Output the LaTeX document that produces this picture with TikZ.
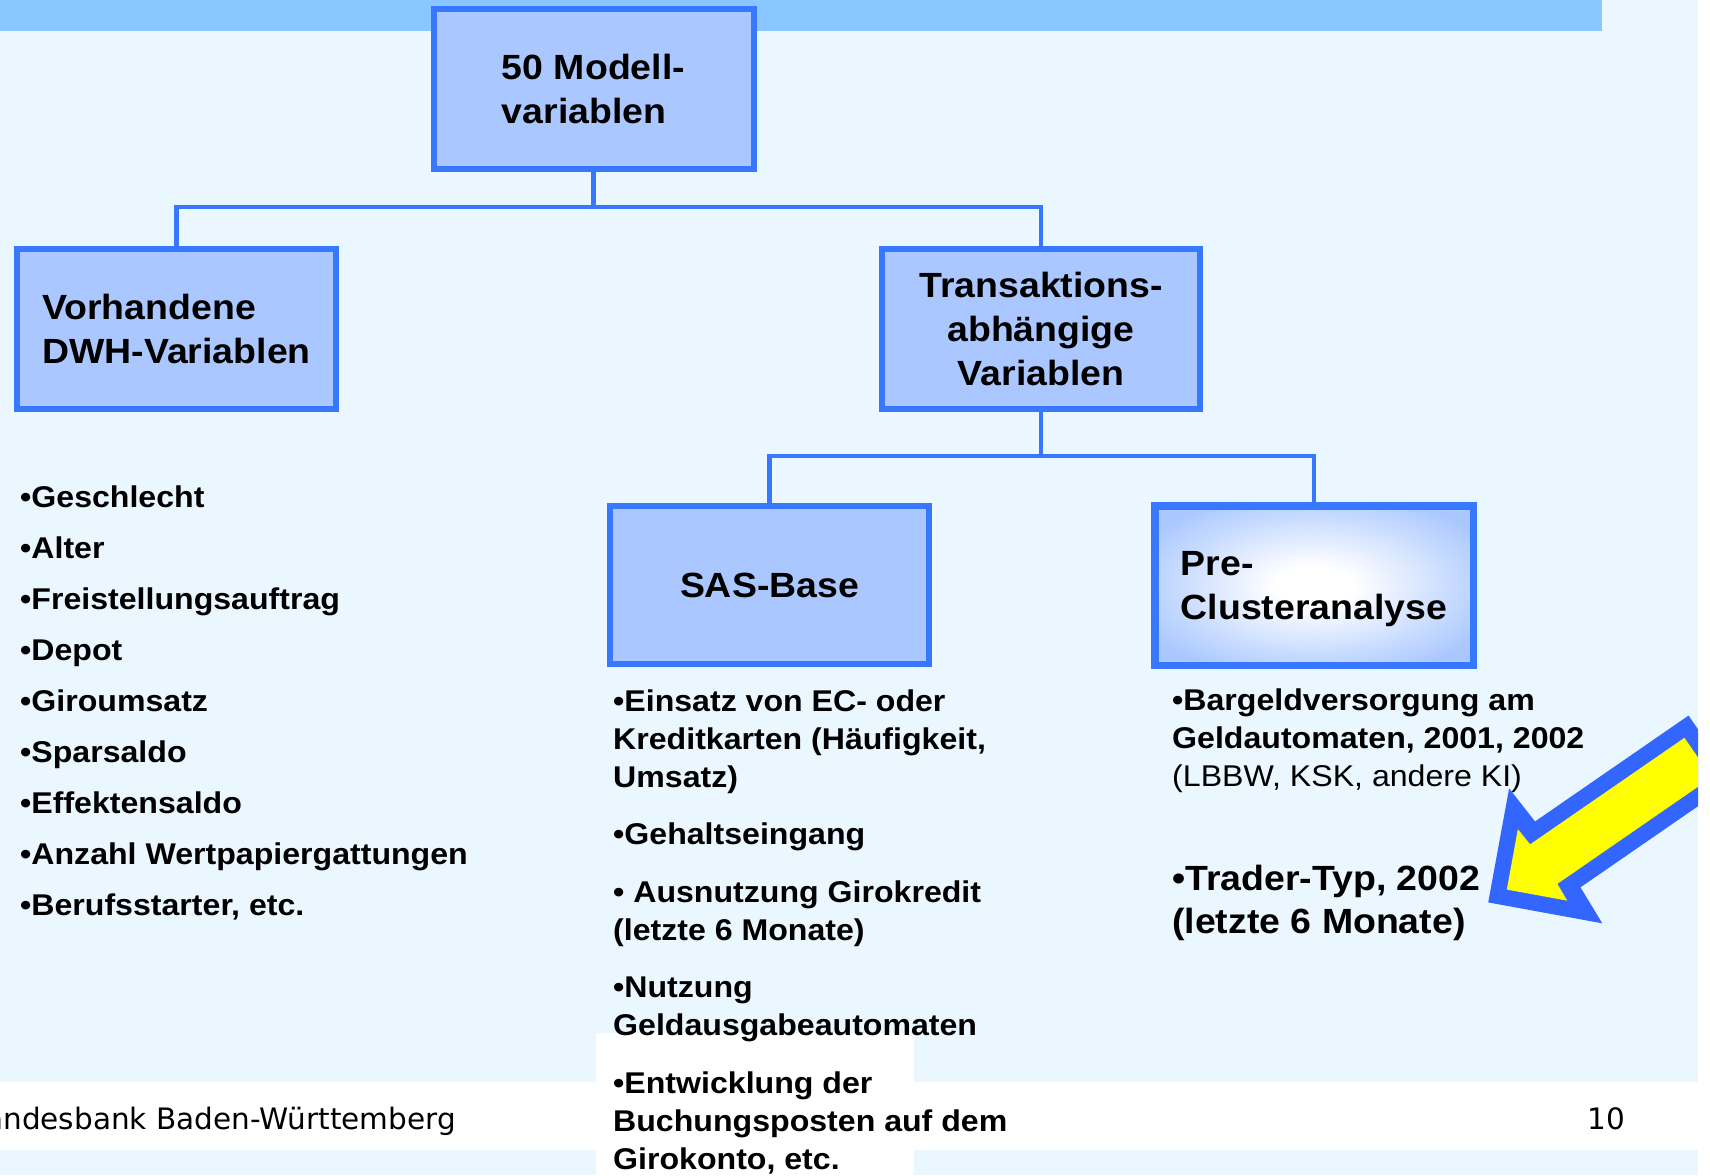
\documentclass[tikz,border=0pt]{standalone}
\usepackage{fontspec}
\setmainfont{Liberation Sans}[FakeStretch=1.07]
\newfontfamily\footfont{DejaVu Sans}
\definecolor{bgblue}{HTML}{EBF7FF}
\definecolor{bandblue}{HTML}{8AC6FF}
\definecolor{boxfill}{HTML}{AAC8FF}
\definecolor{boxline}{HTML}{3878FF}
\definecolor{arrowblue}{HTML}{3366FF}
\definecolor{arrowyellow}{HTML}{FFFF00}
\pgfdeclareradialshading{glow}{\pgfpoint{0bp}{0bp}}{color(0bp)=(white); color(6bp)=(white); color(30bp)=(boxfill); color(50bp)=(boxfill)}
\begin{document}
\begin{tikzpicture}[x=1pt,y=-1pt,
  box/.style={draw=boxline, line width=6pt, fill=boxfill, inner sep=0pt,
    font=\fontsize{35}{44}\selectfont\bfseries, align=left},
  conn/.style={draw=boxline, line width=4.5pt},
  listtxt/.style={anchor=base west, inner sep=0pt, font=\fontsize{30}{38}\selectfont\bfseries},
  listreg/.style={anchor=base west, inner sep=0pt, font=\fontsize{30}{38}\selectfont},
  bigtxt/.style={anchor=base west, inner sep=0pt, font=\fontsize{35}{44}\selectfont\bfseries},
  foot/.style={anchor=base east, inner sep=0pt, font=\footfont\fontsize{29.5}{35}\selectfont}]
\useasboundingbox (0,0) rectangle (1710,1175);
% backgrounds
\fill[white] (0,0) rectangle (1710,1175);
\fill[bgblue] (0,0) rectangle (1698,1175);
\fill[bandblue] (0,0) rectangle (1602,31);
\fill[white] (0,1082) rectangle (1710,1150);
\fill[white] (596,1033) rectangle (914,1175);

% boxes
\node[box, minimum width=320pt, minimum height=160pt] (top) at (593.5,89) {50 Modell-\\variablen};
\node[box, minimum width=319pt, minimum height=160pt] (vorh) at (176.5,329) {Vorhandene\\DWH-Variablen};
\node[box, align=center, minimum width=318pt, minimum height=160pt] (trans) at (1041,329) {Transaktions-\\abhängige\\Variablen};
\node[box, minimum width=319pt, minimum height=158pt] (sas) at (769.5,585) {SAS-Base};
\node[box, line width=7.5pt, shading=glow, text depth=0pt, minimum width=318.5pt, minimum height=159.5pt] (pre) at (1314,585.5) {Pre-\\Clusteranalyse};

% connectors
\coordinate (j1) at (593.5,207);
\coordinate (j2) at (1041,456);
\draw[conn] (top.south) -- (j1);
\draw[conn] (vorh.north) |- (j1) -| (trans.north);
\draw[conn] (trans.south) -- (j2);
\draw[conn] (sas.north) |- (j2) -| (pre.north);

% left list
\foreach \t [count=\i] in {Geschlecht,Alter,Freistellungsauftrag,Depot,Giroumsatz,Sparsaldo,Effektensaldo,Anzahl Wertpapiergattungen,{Berufsstarter, etc.}}
  \node[listtxt] (l\i) at (20,{507+51.1*(\i-1)}) {•\t};

% SAS list
\node[listtxt] (s1) at (613,711) {•Einsatz von EC- oder};
\node[listtxt] (s2) at (613,749) {Kreditkarten (Häufigkeit,};
\node[listtxt] (s3) at (613,787) {Umsatz)};
\node[listtxt] (s4) at (613,844) {•Gehaltseingang};
\node[listtxt] (s5) at (613,902) {• Ausnutzung Girokredit};
\node[listtxt] (s6) at (613,940) {(letzte 6 Monate)};
\node[listtxt] (s7) at (613,997) {•Nutzung};
\node[listtxt] (s8) at (613,1035) {Geldausgabeautomaten};
\node[listtxt] (s9) at (613,1093) {•Entwicklung der};
\node[listtxt] (s10) at (613,1131) {Buchungsposten auf dem};
\node[listtxt] (s11) at (613,1169) {Girokonto, etc.};

% Pre list
\node[listtxt] (p1) at (1172,710) {•Bargeldversorgung am};
\node[listtxt] (p2) at (1172,748) {Geldautomaten, 2001, 2002};
\node[listreg] (p3) at (1172,786) {(LBBW, KSK, andere KI)};
\node[bigtxt] (p4) at (1172,890) {•Trader-Typ, 2002};
\node[bigtxt] (p5) at (1172,933) {(letzte 6 Monate)};

% arrow
\begin{scope}
\clip (0,0) rectangle (1698,1175);
\begin{scope}[shift={(1488.2,902.4)}, x={(0.823pt,0.568pt)}, y={(0.568pt,-0.823pt)}]
\fill[arrowblue] (0,0) -- (82,-82) -- (84.5,-40) -- (271,-40) -- (271,40) -- (84.5,40) -- (82,82) -- cycle;
\fill[arrowyellow] (22.6,0) -- (66,-43.4) -- (67.5,-24) -- (255,-24) -- (255,24) -- (67.5,24) -- (66,43.4) -- cycle;
\end{scope}
\end{scope}

% footer
\begin{scope}
\clip (0,0) rectangle (1710,1175);
\node[foot] (bank) at (456,1129) {Landesbank Baden-Württemberg};
\node[foot] (page) at (1625,1129) {10};
\end{scope}
\end{tikzpicture}
\end{document}
